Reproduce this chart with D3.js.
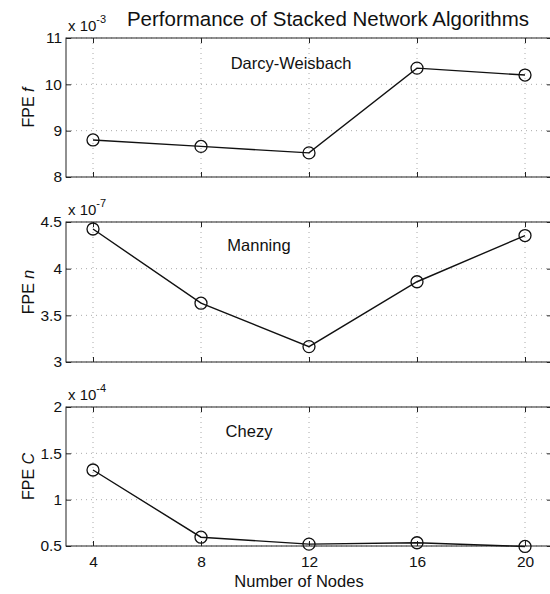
<!DOCTYPE html>
<html><head><meta charset="utf-8">
<script src="https://cdn.jsdelivr.net/npm/d3@7"></script>
<style>body{margin:0;background:#fff}svg{display:block;font-family:"Liberation Sans",Arial,sans-serif}</style>
</head><body>
<script>
const nodes = [4, 8, 12, 16, 20];
const darcy = [8.80, 8.66, 8.52, 10.35, 10.20];      // x 1e-3
const manning = [4.425, 3.63, 3.165, 3.86, 4.355];  // x 1e-7
const chezy = [1.32, 0.595, 0.52, 0.535, 0.495];    // x 1e-4
const xTicks = [4, 8, 12, 16, 20];
const panels = [
  {name:"Darcy-Weisbach", data:darcy, domain:[8,11], ticks:[8,9,10,11], exp:"-3", ylab:"f", top:38, bottom:177, lx:291, ly:69},
  {name:"Manning", data:manning, domain:[3,4.5], ticks:[3,3.5,4,4.5], exp:"-7", ylab:"n", top:222, bottom:362, lx:259, ly:251},
  {name:"Chezy", data:chezy, domain:[0.5,2], ticks:[0.5,1,1.5,2], exp:"-4", ylab:"C", top:407, bottom:546, lx:249, ly:437}
];
const W=550,H=594;
const svg=d3.select("body").append("svg").attr("width",W).attr("height",H);
const x=d3.scaleLinear().domain([3,21]).range([66,552]);

svg.append("text").attr("x",328).attr("y",26).attr("text-anchor","middle")
  .attr("font-size",20.5).attr("fill","#111").text("Performance of Stacked Network Algorithms");

panels.forEach((p,i)=>{
  const y=d3.scaleLinear().domain(p.domain).range([p.bottom,p.top]);
  const g=svg.append("g");
  // grid
  g.selectAll(".gx").data(xTicks).join("line").attr("x1",d=>x(d)).attr("x2",d=>x(d))
    .attr("y1",p.top).attr("y2",p.bottom).attr("stroke","#aaa").attr("stroke-width",1).attr("stroke-dasharray","1,4");
  g.selectAll(".gy").data(p.ticks).join("line").attr("y1",d=>y(d)).attr("y2",d=>y(d))
    .attr("x1",x(3)).attr("x2",x(21)).attr("stroke","#aaa").attr("stroke-width",1).attr("stroke-dasharray","1,4");
  // box
  g.append("rect").attr("x",x(3)).attr("y",p.top).attr("width",x(21)-x(3)).attr("height",p.bottom-p.top)
    .attr("fill","none").attr("stroke","#222").attr("stroke-width",1);
  // axes with inward ticks
  const ya=d3.axisLeft(y).tickValues(p.ticks).tickFormat(d=>String(d)).tickSize(-5).tickPadding(4);
  const yg=g.append("g").attr("transform",`translate(${x(3)},0)`).call(ya);
  yg.select(".domain").remove();
  yg.selectAll("text").attr("font-size",15.5).attr("fill","#111").attr("font-family","Liberation Sans, Arial, sans-serif");
  yg.selectAll("line").attr("stroke","#222");
  const yr=g.append("g").attr("transform",`translate(${x(21)},0)`).call(d3.axisRight(y).tickValues(p.ticks).tickSize(-5).tickFormat(""));
  yr.select(".domain").remove(); yr.selectAll("line").attr("stroke","#222");
  const xb=g.append("g").attr("transform",`translate(0,${p.bottom})`).call(d3.axisBottom(x).tickValues(xTicks).tickSize(-5).tickPadding(10).tickFormat(i===2?d=>d:""));
  xb.select(".domain").remove(); xb.selectAll("line").attr("stroke","#222");
  xb.selectAll("text").attr("font-size",15.5).attr("fill","#111").attr("font-family","Liberation Sans, Arial, sans-serif");
  const xt=g.append("g").attr("transform",`translate(0,${p.top})`).call(d3.axisTop(x).tickValues(xTicks).tickSize(-5).tickFormat(""));
  xt.select(".domain").remove(); xt.selectAll("line").attr("stroke","#222");
  // exponent
  const e=g.append("text").attr("x",68).attr("y",p.top-7).attr("font-size",15).attr("fill","#111");
  e.append("tspan").text("x 10");
  e.append("tspan").attr("dy",-8).attr("font-size",11).text(p.exp);
  // y label
  const yl=g.append("text").attr("transform",`translate(34,${(p.top+p.bottom)/2}) rotate(-90)`)
    .attr("text-anchor","middle").attr("font-size",16).attr("fill","#111");
  yl.append("tspan").text("FPE ");
  yl.append("tspan").attr("font-style","italic").text(p.ylab);
  // series label
  g.append("text").attr("x",p.lx).attr("y",p.ly).attr("text-anchor","middle").attr("font-size",16.5).attr("fill","#111").text(p.name);
  // line & markers
  const pts=nodes.map((n,k)=>[x(n),y(p.data[k])]);
  g.append("path").attr("d",d3.line()(pts)).attr("fill","none").attr("stroke","#111").attr("stroke-width",1.4);
  g.selectAll(".m").data(pts).join("circle").attr("cx",d=>d[0]).attr("cy",d=>d[1]).attr("r",6)
    .attr("fill","none").attr("stroke","#111").attr("stroke-width",1.3);
});
svg.append("text").attr("x",299).attr("y",587).attr("text-anchor","middle").attr("font-size",16.5).attr("fill","#111").text("Number of Nodes");
</script>
</body></html>
